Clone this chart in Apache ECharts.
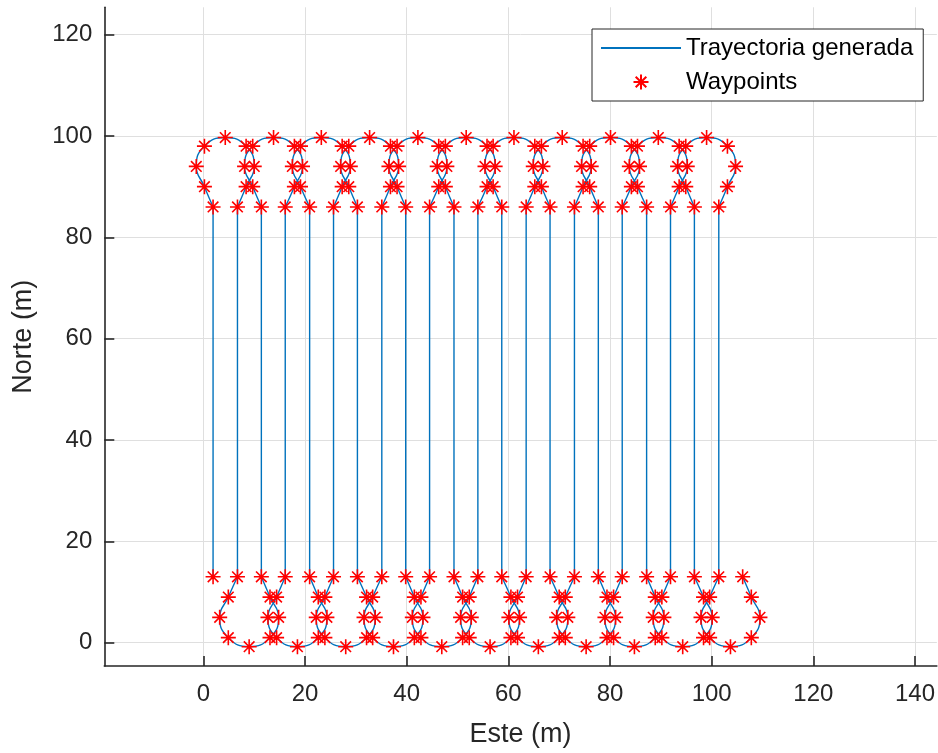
<!DOCTYPE html>
<html>
<head>
  <meta charset="utf-8">
  <title>Trayectoria generada</title>
  <script src="https://fastly.jsdelivr.net/npm/echarts@6/dist/echarts.min.js"></script>
</head>
<body style="margin:0;background:#fff;">
<div id="chart-container" style="width:938px;height:753px;"></div>
<script type="text/javascript">
  // columnas rectas del barrido (Este, m), de y = 13 a y = 86
  var columnX = [1.9, 6.7, 11.4, 16.1, 20.9, 25.6, 30.3, 35.1, 39.8, 44.5, 49.3,
                 54.0, 58.7, 63.5, 68.2, 73.0, 77.7, 82.4, 87.2, 91.9, 96.6, 101.4];
  var lineBottomY = 13;
  var lineTopY = 86;
  var startPoint = [1.9, 13];

  // giros superiores (waypoints en orden)
  var topLoopY = [86, 90, 94, 98, 99.7, 98, 94, 90, 86];
  var topLoopX = [
    [1.9, 0.2, -1.4, 0.2, 4.3, 8.4, 10.0, 8.4, 6.7],
    [11.4, 9.7, 8.1, 9.7, 13.8, 17.9, 19.5, 17.9, 16.1],
    [20.9, 19.1, 17.5, 19.1, 23.2, 27.3, 28.9, 27.3, 25.6],
    [30.3, 28.6, 27.0, 28.6, 32.7, 36.8, 38.4, 36.8, 35.1],
    [39.8, 38.1, 36.5, 38.1, 42.2, 46.3, 47.9, 46.3, 44.5],
    [49.3, 47.6, 46.0, 47.6, 51.7, 55.8, 57.4, 55.8, 54.0],
    [58.7, 57.0, 55.4, 57.0, 61.1, 65.2, 66.8, 65.2, 63.5],
    [68.2, 66.5, 64.9, 66.5, 70.6, 74.7, 76.3, 74.7, 73.0],
    [77.7, 76.0, 74.4, 76.0, 80.1, 84.2, 85.8, 84.2, 82.4],
    [87.2, 85.4, 83.8, 85.4, 89.5, 93.6, 95.2, 93.6, 91.9],
    [96.6, 94.9, 93.3, 94.9, 99.0, 103.1, 104.7, 103.1, 101.4]
  ];

  // giros inferiores
  var bottomLoopY = [13, 9, 5, 1, -0.8, 1, 5, 9, 13];
  var bottomLoopX = [
    [6.7, 4.9, 3.2, 4.9, 9.0, 13.1, 14.8, 13.1, 11.4],
    [16.1, 14.4, 12.7, 14.4, 18.5, 22.6, 24.3, 22.6, 20.9],
    [25.6, 23.9, 22.2, 23.9, 28.0, 32.1, 33.8, 32.1, 30.3],
    [35.1, 33.3, 31.6, 33.3, 37.4, 41.5, 43.2, 41.5, 39.8],
    [44.5, 42.8, 41.1, 42.8, 46.9, 51.0, 52.7, 51.0, 49.3],
    [54.0, 52.3, 50.6, 52.3, 56.4, 60.5, 62.2, 60.5, 58.7],
    [63.5, 61.8, 60.1, 61.8, 65.9, 70.0, 71.7, 70.0, 68.2],
    [73.0, 71.2, 69.5, 71.2, 75.3, 79.4, 81.1, 79.4, 77.7],
    [82.4, 80.7, 79.0, 80.7, 84.8, 88.9, 90.6, 88.9, 87.2],
    [91.9, 90.2, 88.5, 90.2, 94.3, 98.4, 100.1, 98.4, 96.6],
    [101.4, 99.6, 97.9, 99.6, 103.7, 107.8, 109.5, 107.8, 106.1]
  ];

  var TRAJ = 'Trayectoria generada';
  var WP = 'Waypoints';
  var FONT = "'Liberation Sans', Arial, sans-serif";
  var AXIS_COLOR = '#262626';
  var ASTERISK = 'path://M5,0L5,10M0,5L10,5M1.46,1.46L8.54,8.54M8.54,1.46L1.46,8.54';

  function loopPoints(xs, ys) {
    return xs.map(function (x, i) { return [x, ys[i]]; });
  }

  var trajStyle = { color: '#0072BD', width: 1.4 };
  var series = [];

  columnX.forEach(function (x) {
    series.push({
      name: TRAJ, type: 'line', symbol: 'none', silent: true,
      itemStyle: { color: '#0072BD' }, lineStyle: trajStyle,
      data: [[x, lineBottomY], [x, lineTopY]]
    });
  });
  topLoopX.forEach(function (xs) {
    series.push({
      name: TRAJ, type: 'line', symbol: 'none', silent: true, smooth: 0.5,
      itemStyle: { color: '#0072BD' }, lineStyle: trajStyle,
      data: loopPoints(xs, topLoopY)
    });
  });
  bottomLoopX.forEach(function (xs) {
    series.push({
      name: TRAJ, type: 'line', symbol: 'none', silent: true, smooth: 0.5,
      itemStyle: { color: '#0072BD' }, lineStyle: trajStyle,
      data: loopPoints(xs, bottomLoopY)
    });
  });

  var waypoints = [startPoint];
  topLoopX.forEach(function (xs) { waypoints = waypoints.concat(loopPoints(xs, topLoopY)); });
  bottomLoopX.forEach(function (xs) { waypoints = waypoints.concat(loopPoints(xs, bottomLoopY)); });

  series.push({
    name: WP, type: 'scatter', z: 5, silent: true,
    symbol: ASTERISK, symbolSize: 15,
    itemStyle: { color: 'transparent', borderColor: '#FF0000', borderWidth: 1.6, opacity: 1 },
    data: waypoints
  });

  var dom = document.getElementById('chart-container');
  var myChart = echarts.init(dom, null, { renderer: 'canvas' });

  var option = {
    animation: false,
    backgroundColor: '#ffffff',
    textStyle: { fontFamily: FONT },
    grid: { left: 104.3, top: 7.3, right: 0, bottom: 84, containLabel: false },
    legend: {
      data: [{ name: TRAJ, itemStyle: { opacity: 0 } }, { name: WP }],
      orient: 'vertical',
      left: 592, top: 29,
      padding: [6, 10, 6, 8],
      itemWidth: 80, itemHeight: 15, itemGap: 8,
      borderColor: AXIS_COLOR, borderWidth: 1,
      backgroundColor: '#ffffff',
      selectedMode: false,
      textStyle: { fontSize: 24, color: '#000', fontFamily: FONT, lineHeight: 26 }
    },
    xAxis: {
      type: 'value',
      min: -19.5, max: 144.3,
      splitNumber: 8, minInterval: 20, maxInterval: 20,
      name: 'Este (m)', nameLocation: 'middle', nameGap: 55,
      nameTextStyle: { fontSize: 27, color: AXIS_COLOR, fontFamily: FONT },
      axisLine: { onZero: false, lineStyle: { color: AXIS_COLOR, width: 1.6 } },
      axisTick: { inside: true, length: 10, lineStyle: { color: AXIS_COLOR, width: 1.6 } },
      axisLabel: { fontSize: 24, color: AXIS_COLOR, margin: 16, showMinLabel: false, showMaxLabel: false },
      splitLine: { show: true, showMinLine: false, showMaxLine: false, lineStyle: { color: '#dfdfdf', width: 1 } }
    },
    yAxis: {
      type: 'value',
      min: -4.6, max: 125.4,
      splitNumber: 6, minInterval: 20, maxInterval: 20,
      name: 'Norte (m)', nameLocation: 'middle', nameGap: 67,
      nameTextStyle: { fontSize: 27, color: AXIS_COLOR, fontFamily: FONT },
      axisLine: { onZero: false, lineStyle: { color: AXIS_COLOR, width: 1.6 } },
      axisTick: { inside: true, length: 10, lineStyle: { color: AXIS_COLOR, width: 1.6 } },
      axisLabel: { fontSize: 24, color: AXIS_COLOR, margin: 12, showMinLabel: false, showMaxLabel: false },
      splitLine: { show: true, showMinLine: false, showMaxLine: false, lineStyle: { color: '#dfdfdf', width: 1 } }
    },
    series: series
  };

  myChart.setOption(option);
  window.addEventListener('resize', myChart.resize);
</script>
</body>
</html>
